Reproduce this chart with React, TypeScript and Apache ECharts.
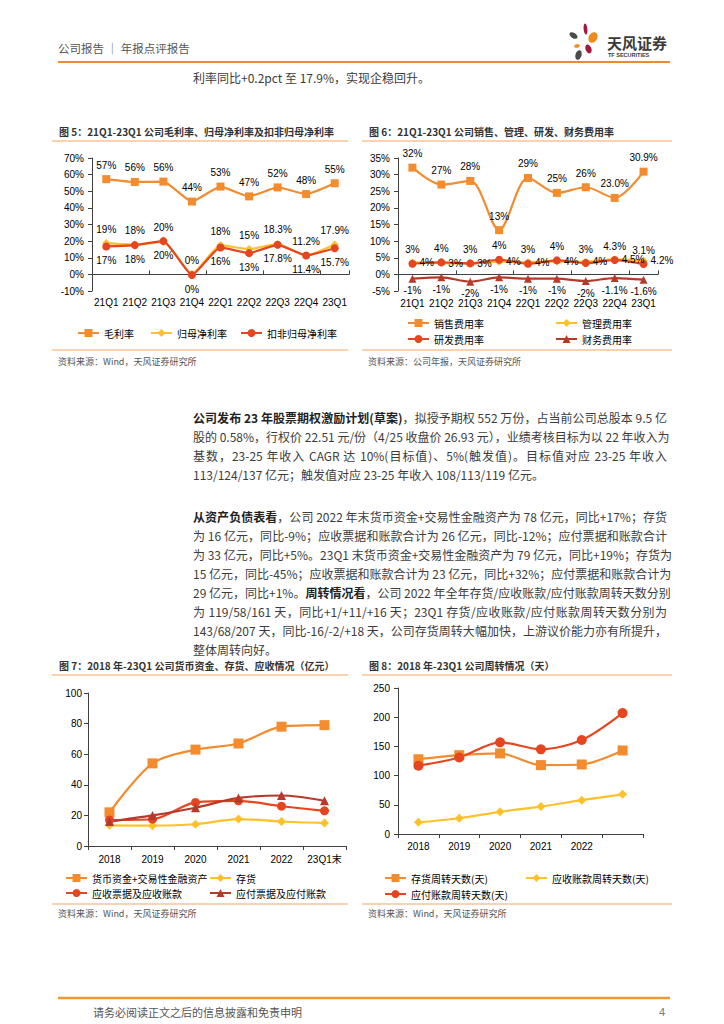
import React, { useEffect, useRef } from 'react';
import * as echarts from 'echarts';

// ---------- data ----------
const quarters = ['21Q1', '21Q2', '21Q3', '21Q4', '22Q1', '22Q2', '22Q3', '22Q4', '23Q1'];
const grossMargin = [57.3, 55.6, 55.8, 43.8, 52.8, 46.9, 52.3, 48.3, 54.8];
const grossMarginDec = [0, 0, 0, 0, 0, 0, 0, 0, 0];
const netMargin = [18.8, 17.9, 19.6, 0.2, 17.6, 15.2, 18.3, 11.2, 17.9];
const netMarginDec = [0, 0, 0, 0, 0, 0, 1, 1, 1];
const deductedMargin = [16.8, 17.6, 20.0, -0.4, 16.2, 12.8, 17.8, 11.4, 15.7];
const deductedMarginDec = [0, 0, 0, 0, 0, 0, 1, 1, 1];

const salesRate = [32.1, 27.0, 28.1, 13.3, 29.0, 24.5, 26.2, 23.0, 30.9];
const salesDec = [0, 0, 0, 0, 0, 0, 0, 1, 1];
const adminRate = [3.6, 3.4, 3.3, 3.8, 3.7, 3.9, 3.8, 4.5, 4.2];
const adminDec = [0, 0, 0, 0, 0, 0, 0, 1, 1];
const rdRate = [3.2, 3.6, 3.3, 4.4, 3.2, 4.2, 3.4, 4.3, 3.1];
const rdDec = [0, 0, 0, 0, 0, 0, 0, 1, 1];
const finRate = [-1.3, -0.9, -2.2, -0.9, -1.3, -1.3, -2.0, -1.1, -1.6];
const finDec = [0, 0, 0, 0, 0, 0, 0, 1, 1];

const balanceCats = ['2018', '2019', '2020', '2021', '2022', '23Q1末'];
const cashAssets = [22, 54, 63, 67, 78, 79];
const inventory = [13.5, 13.3, 14.2, 17.6, 16, 15];
const receivables = [17, 17.5, 28.5, 29.5, 26, 23];
const payables = [16, 20, 25, 31.4, 33, 29.5];

const turnoverCats = ['2018', '2019', '2020', '2021', '2022', '23Q1'];
const invDays = [128, 135, 138, 118, 119, 143];
const recDays = [20, 27, 38, 47, 58, 68];
const payDays = [117, 131, 157, 145, 161, 207];

const para1: [string, boolean][][] = [
  [['公司发布 23 年股票期权激励计划(草案)', true], ['，拟授予期权 552 万份，占当前公司总股本 9.5 亿', false]],
  [['股的 0.58%，行权价 22.51 元/份（4/25 收盘价 26.93 元），业绩考核目标为以 22 年收入为', false]],
  [['基数，23-25 年收入 CAGR 达 10%(目标值)、5%(触发值)。目标值对应 23-25 年收入', false]],
  [['113/124/137 亿元；触发值对应 23-25 年收入 108/113/119 亿元。', false]],
];
const para2: [string, boolean][][] = [
  [['从资产负债表看', true], ['，公司 2022 年末货币资金+交易性金融资产为 78 亿元，同比+17%；存货', false]],
  [['为 16 亿元，同比-9%；应收票据和账款合计为 26 亿元，同比-12%；应付票据和账款合计', false]],
  [['为 33 亿元，同比+5%。23Q1 末货币资金+交易性金融资产为 79 亿元，同比+19%；存货为', false]],
  [['15 亿元，同比-45%；应收票据和账款合计为 23 亿元，同比+32%；应付票据和账款合计为', false]],
  [['29 亿元，同比+1%。', false], ['周转情况看', true], ['，公司 2022 年全年存货/应收账款/应付账款周转天数分别', false]],
  [['为 119/58/161 天，同比+1/+11/+16 天；23Q1 存货/应收账款/应付账款周转天数分别为', false]],
  [['143/68/207 天，同比-16/-2/+18 天，公司存货周转大幅加快，上游议价能力亦有所提升，', false]],
  [['整体周转向好。', false]],
];

// ---------- style ----------
const FONT_CJK = '"Noto Sans CJK SC", "Liberation Sans", sans-serif';
const FONT_NUM = '"Liberation Sans", "Noto Sans CJK SC", sans-serif';
const C_ORANGE = '#F28C2F';
const C_YELLOW = '#FFC12A';
const C_RED = '#E5461F';
const C_DARKRED = '#B63A2B';
const AXIS_COLOR = '#404040';

const fmt = (v: number, d: number) => {
  let s = v.toFixed(d);
  if (s === '-0') s = '0';
  return s + '%';
};

function lineSeries(
  name: string, data: number[], color: string, symbol: string, size: number,
  xi: number, yi: number, smooth: number, labelPos?: string, dec?: number[], labelDist = 5
): any {
  return {
    type: 'line', name, data, xAxisIndex: xi, yAxisIndex: yi,
    symbol, symbolSize: size, smooth, showAllSymbol: true,
    lineStyle: { color, width: 2.2 },
    itemStyle: { color },
    label: labelPos
      ? {
          show: true, position: labelPos, distance: labelDist, color: '#000', fontSize: 10, fontFamily: FONT_NUM,
          formatter: (p: any) => fmt(p.value, dec ? dec[p.dataIndex] : 0),
        }
      : { show: false },
    emphasis: { disabled: true },
  };
}

function legendAt(name: string, left: number, centerY: number): any {
  return {
    data: [name], left, top: centerY - 6, itemWidth: 21, itemHeight: 10, itemGap: 0,
    padding: 0, selectedMode: false,
    textStyle: { fontSize: 10, color: '#000', fontFamily: FONT_CJK, lineHeight: 12 },
  };
}

const T = (text: string, x: number, y: number, font: string, fill: string, align = 'left') => ({
  type: 'text', x, y, silent: true, style: { text, font, fill, align, verticalAlign: 'middle' },
});
const L = (x1: number, y1: number, x2: number, y2: number, stroke: string, lw: number) => ({
  type: 'line', silent: true, shape: { x1, y1, x2, y2 }, style: { stroke, lineWidth: lw },
});
const E = (x: number, y: number, rx: number, ry: number, rot: number, fill: string) => ({
  type: 'ellipse', x, y, rotation: rot, silent: true, shape: { cx: 0, cy: 0, rx, ry }, style: { fill },
});

const catLabel = { fontSize: 10, color: '#000', fontFamily: FONT_NUM };
const axisLine = { show: true, onZero: false, lineStyle: { color: AXIS_COLOR, width: 1 } };

function labelXAxis(gi: number, data: string[], margin: number): any {
  return {
    type: 'category', gridIndex: gi, data, position: 'bottom',
    axisLine: { show: false, onZero: false }, axisTick: { show: false },
    axisLabel: { ...catLabel, margin, interval: 0 },
  };
}
function zeroXAxis(gi: number, data: string[]): any {
  return {
    type: 'category', gridIndex: gi, data,
    axisLine: { show: true, onZero: true, lineStyle: { color: AXIS_COLOR, width: 1 } },
    axisTick: { show: true, length: 4, lineStyle: { color: AXIS_COLOR } },
    axisLabel: { show: false },
  };
}
function valueYAxis(gi: number, min: number, max: number, interval: number, pct: boolean, margin = 8): any {
  return {
    type: 'value', gridIndex: gi, min, max, interval,
    axisLine: { ...axisLine }, axisTick: { show: true, length: 4, lineStyle: { color: AXIS_COLOR } },
    splitLine: { show: false },
    axisLabel: { ...catLabel, margin, formatter: pct ? '{value}%' : '{value}' },
  };
}

const titleFont = `bold 10px ${FONT_CJK}`;
const sourceFont = `9px ${FONT_CJK}`;
const UNDER = '#F5A565';

const option: any = {
  animation: false,
  backgroundColor: '#fff',
  grid: [
    { left: 92, top: 158, width: 257, height: 133 },
    { left: 398, top: 158, width: 260, height: 133 },
    { left: 88, top: 693, width: 258, height: 153 },
    { left: 398, top: 688, width: 245, height: 146 },
  ],
  xAxis: [
    labelXAxis(0, quarters, 6),
    zeroXAxis(0, quarters),
    labelXAxis(1, quarters, 7),
    zeroXAxis(1, quarters),
    {
      type: 'category', gridIndex: 2, data: balanceCats,
      axisLine: { ...axisLine }, axisTick: { show: true, length: 4, lineStyle: { color: AXIS_COLOR } },
      axisLabel: { ...catLabel, margin: 8, interval: 0 },
    },
    {
      type: 'category', gridIndex: 3, data: turnoverCats,
      axisLine: { ...axisLine }, axisTick: { show: true, length: 4, lineStyle: { color: AXIS_COLOR } },
      axisLabel: { ...catLabel, margin: 7, interval: 0, formatter: (v: string, i: number) => (i === turnoverCats.length - 1 ? '' : v) },
    },
  ],
  yAxis: [
    valueYAxis(0, -10, 70, 10, true),
    valueYAxis(1, -5, 35, 5, true),
    valueYAxis(2, 0, 100, 20, false, 6),
    valueYAxis(3, 0, 250, 50, false, 8),
  ],
  legend: [
    legendAt('毛利率', 77, 333),
    legendAt('归母净利率', 150, 333),
    legendAt('扣非归母净利率', 240, 333),
    legendAt('销售费用率', 407, 323),
    legendAt('管理费用率', 555, 323),
    legendAt('研发费用率', 407, 339),
    legendAt('财务费用率', 555, 339),
    legendAt('货币资金+交易性金融资产', 65, 878),
    legendAt('存货', 209, 878),
    legendAt('应收票据及应收账款', 65, 893),
    legendAt('应付票据及应付账款', 209, 893),
    legendAt('存货周转天数(天)', 384, 878),
    legendAt('应收账款周转天数(天)', 525, 878),
    legendAt('应付账款周转天数(天)', 384, 894),
  ],
  series: [
    lineSeries('毛利率', grossMargin, C_ORANGE, 'rect', 8, 0, 0, 0.15, 'top', grossMarginDec),
    lineSeries('归母净利率', netMargin, C_YELLOW, 'diamond', 8, 0, 0, 0.15, 'top', netMarginDec),
    lineSeries('扣非归母净利率', deductedMargin, C_RED, 'circle', 8, 0, 0, 0.15, 'bottom', deductedMarginDec),

    lineSeries('销售费用率', salesRate, C_ORANGE, 'rect', 8, 2, 1, 0.3, 'top', salesDec),
    lineSeries('管理费用率', adminRate, C_YELLOW, 'diamond', 8, 2, 1, 0.3, 'right', adminDec, 3),
    lineSeries('研发费用率', rdRate, C_RED, 'circle', 8, 2, 1, 0.3, 'top', rdDec),
    lineSeries('财务费用率', finRate, C_DARKRED, 'triangle', 8, 2, 1, 0.3, 'bottom', finDec, 3),

    lineSeries('货币资金+交易性金融资产', cashAssets, C_ORANGE, 'rect', 10, 4, 2, 0.3),
    lineSeries('存货', inventory, C_YELLOW, 'diamond', 9, 4, 2, 0.3),
    lineSeries('应收票据及应收账款', receivables, C_RED, 'circle', 9, 4, 2, 0.3),
    lineSeries('应付票据及应付账款', payables, C_DARKRED, 'triangle', 9, 4, 2, 0.3),

    lineSeries('存货周转天数(天)', invDays, C_ORANGE, 'rect', 10, 5, 3, 0.3),
    lineSeries('应收账款周转天数(天)', recDays, C_YELLOW, 'diamond', 9, 5, 3, 0.3),
    lineSeries('应付账款周转天数(天)', payDays, C_RED, 'circle', 10, 5, 3, 0.3),
  ],
  graphic: [
    // header
    T('公司报告 │ 年报点评报告', 58, 48, `11.5px ${FONT_CJK}`, '#555'),
    L(58, 62, 670, 62, '#EF8A2C', 2),
    E(573.5, 35.5, 4.6, 2.6, -0.6, '#4A4A4A'),
    E(585.5, 29, 1.9, 5.6, 0.1, '#A3173F'),
    E(593, 37.5, 4.3, 5.6, -0.5, '#F08A1C'),
    E(577, 46, 2.9, 1.8, 0.2, '#F08A1C'),
    E(588.5, 49, 2.9, 4.6, 0.4, '#A3173F'),
    E(578.5, 55, 3, 5, -0.3, '#4A4A4A'),
    T('天风证券', 607, 42, `bold 15px ${FONT_CJK}`, '#3A3A3A'),
    T('TF SECURITIES', 608, 55, `bold 5.5px ${FONT_NUM}`, '#3A3A3A'),
    T('利率同比+0.2pct 至 17.9%，实现企稳回升。', 193, 77, `12px ${FONT_CJK}`, '#3c3c3c'),

    // chart 5 frame
    T('图 5：21Q1-23Q1 公司毛利率、归母净利率及扣非归母净利率', 59, 131, titleFont, '#333'),
    L(52, 141, 348, 141, UNDER, 1),
    L(52, 350, 348, 350, UNDER, 1),
    T('资料来源：Wind，天风证券研究所', 58, 361, sourceFont, '#555'),
    // chart 6 frame
    T('图 6：21Q1-23Q1 公司销售、管理、研发、财务费用率', 369, 131, titleFont, '#333'),
    L(362, 141, 672, 141, UNDER, 1),
    L(362, 350, 672, 350, UNDER, 1),
    T('资料来源：公司年报，天风证券研究所', 368, 361, sourceFont, '#555'),
    // chart 7 frame
    T('图 7：2018 年-23Q1 公司货币资金、存货、应收情况（亿元）', 59, 665, titleFont, '#333'),
    L(52, 675, 348, 675, UNDER, 1),
    L(52, 904, 348, 904, UNDER, 1),
    T('资料来源：Wind，天风证券研究所', 58, 913, sourceFont, '#555'),
    // chart 8 frame
    T('图 8：2018 年-23Q1 公司周转情况（天）', 369, 665, titleFont, '#333'),
    L(362, 675, 672, 675, UNDER, 1),
    L(362, 904, 672, 904, UNDER, 1),
    T('资料来源：Wind，天风证券研究所', 368, 913, sourceFont, '#555'),

    // footer
    L(58, 998, 670, 998, '#EE9A30', 2.5),
    T('请务必阅读正文之后的信息披露和免责申明', 93, 1012, `11px ${FONT_CJK}`, '#555'),
    T('4', 665, 1012, `11px ${FONT_NUM}`, '#777', 'right'),
  ],
};

function Paragraph({ lines, top }: { lines: [string, boolean][][]; top: number }) {
  return (
    <>
      {lines.map((segs, i) => (
        <div
          key={i}
          style={{
            position: 'absolute', left: 193, top: top + i * 19 - 9.5, width: 474, height: 19,
            lineHeight: '19px', fontSize: 12, fontFamily: FONT_CJK, color: '#3c3c3c',
            whiteSpace: 'nowrap', textAlign: 'justify',
            textAlignLast: i === lines.length - 1 ? 'left' : 'justify',
          } as any}
        >
          {segs.map(([t, b], j) => (
            <span key={j} style={{ fontWeight: b ? 700 : 400, color: b ? '#222' : '#3c3c3c' }}>{t}</span>
          ))}
        </div>
      ))}
    </>
  );
}

export default function App() {
  const ref = useRef<HTMLDivElement>(null);
  useEffect(() => {
    const chart = echarts.init(ref.current as HTMLDivElement, null, { renderer: 'svg' });
    chart.setOption(option);
    return () => chart.dispose();
  }, []);
  return (
    <div style={{ position: 'absolute', left: 0, top: 0, width: 724, height: 1024, background: '#fff', overflow: 'hidden' }}>
      <div ref={ref} style={{ position: 'absolute', left: 0, top: 0, width: 724, height: 1024 }} />
      <Paragraph lines={para1} top={417} />
      <Paragraph lines={para2} top={516} />
    </div>
  );
}
